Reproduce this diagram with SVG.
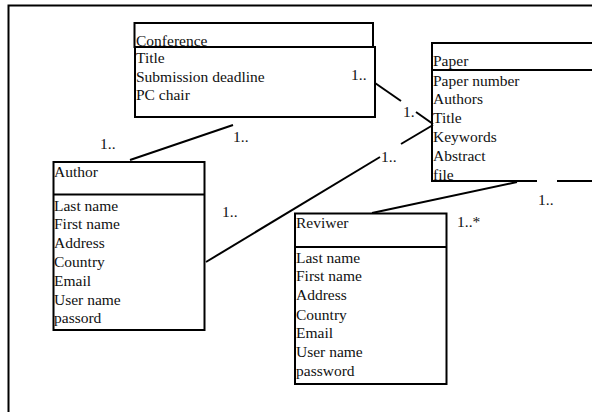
<svg xmlns="http://www.w3.org/2000/svg" width="592" height="412" viewBox="0 0 592 412">
<style>
  .box{fill:none;stroke:#000;stroke-width:2}
  .ln{fill:none;stroke:#000;stroke-width:2}
  text{font-family:"Liberation Serif","Times New Roman",serif;font-size:15.5px;fill:#111}
</style>
<rect width="592" height="412" fill="#fff"/>
<g id="frame">
  <path class="ln" d="M8.5,412 V5.5 H592"/>
</g>
<g id="connectors">
  <path class="ln" d="M375,83 L401,101"/>
  <path class="ln" d="M416,112 L433,124"/>
  <path class="ln" d="M206,262 L380,157"/>
  <path class="ln" d="M401,144 L433,125"/>
  <path class="ln" d="M233,125 L130,160"/>
  <path class="ln" d="M372,213 L517,182"/>
</g>
<g id="conference">
  <rect class="box" x="134.5" y="23" width="238.5" height="24"/>
  <rect class="box" x="135" y="47" width="240" height="70"/>
  <text x="136" y="46">Conference</text>
  <text x="136" y="63">Title</text>
  <text x="136" y="82">Submission deadline</text>
  <text x="136" y="100">PC chair</text>
</g>
<g id="paper">
  <rect class="box" x="432" y="43" width="170" height="138"/>
  <line class="ln" x1="432" y1="70" x2="592" y2="70"/>
  <rect x="537" y="178" width="20" height="6" fill="#fff"/>
  <text x="433" y="66">Paper</text>
  <text x="433" y="86">Paper number</text>
  <text x="433" y="104">Authors</text>
  <text x="433" y="123">Title</text>
  <text x="433" y="142">Keywords</text>
  <text x="433" y="161">Abstract</text>
  <text x="433" y="180">file</text>
</g>
<g id="author">
  <rect class="box" x="53.5" y="162" width="151" height="168"/>
  <line class="ln" x1="53.5" y1="194.5" x2="204.5" y2="194.5"/>
  <text x="54" y="177">Author</text>
  <text x="54" y="211">Last name</text>
  <text x="54" y="229">First name</text>
  <text x="54" y="248">Address</text>
  <text x="54" y="267">Country</text>
  <text x="54" y="286">Email</text>
  <text x="54" y="305">User name</text>
  <text x="54" y="323">passord</text>
</g>
<g id="reviwer">
  <rect class="box" x="295" y="213.5" width="151.5" height="170.5"/>
  <line class="ln" x1="295" y1="247" x2="446.5" y2="247"/>
  <text x="296" y="228">Reviwer</text>
  <text x="296" y="263">Last name</text>
  <text x="296" y="281">First name</text>
  <text x="296" y="300">Address</text>
  <text x="296" y="320">Country</text>
  <text x="296" y="338">Email</text>
  <text x="296" y="357">User name</text>
  <text x="296" y="376">password</text>
</g>
<g id="labels">
  <text x="351" y="80">1..</text>
  <text x="403" y="117">1.</text>
  <text x="381" y="162">1..</text>
  <text x="233" y="142">1..</text>
  <text x="100" y="149">1..</text>
  <text x="222" y="217">1..</text>
  <text x="538" y="205">1..</text>
  <text x="457" y="227">1..*</text>
</g>
</svg>
